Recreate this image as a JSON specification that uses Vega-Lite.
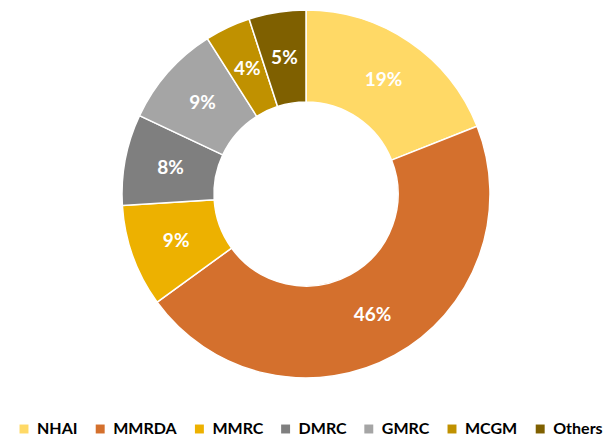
{
  "$schema": "https://vega.github.io/schema/vega-lite/v6.json",
  "width": 602,
  "height": 388,
  "autosize": {"type": "none"},
  "padding": {"left": 5, "top": 0, "right": 0, "bottom": 49},
  "background": "white",
  "data": {"values": [
    {"agency": "NHAI", "share": 19, "label": "19%", "ord": 1},
    {"agency": "MMRDA", "share": 46, "label": "46%", "ord": 2},
    {"agency": "MMRC", "share": 9, "label": "9%", "ord": 3},
    {"agency": "DMRC", "share": 8, "label": "8%", "ord": 4},
    {"agency": "GMRC", "share": 9, "label": "9%", "ord": 5},
    {"agency": "MCGM", "share": 4, "label": "4%", "ord": 6},
    {"agency": "Others", "share": 5, "label": "5%", "ord": 7}
  ]},
  "encoding": {
    "theta": {"field": "share", "type": "quantitative", "stack": true},
    "order": {"field": "ord", "type": "quantitative"}
  },
  "layer": [
    {
      "mark": {"type": "arc", "outerRadius": 184, "innerRadius": 92, "stroke": "white", "strokeWidth": 1.5},
      "encoding": {
        "color": {
          "field": "agency",
          "type": "nominal",
          "scale": {
            "domain": ["NHAI", "MMRDA", "MMRC", "DMRC", "GMRC", "MCGM", "Others"],
            "range": ["#FFD966", "#D4702D", "#EDB100", "#7F7F7F", "#A5A5A5", "#C09100", "#7F6000"]
          },
          "legend": {
            "title": null,
            "orient": "none",
            "direction": "horizontal",
            "columns": 7,
            "legendX": 11,
            "legendY": 421,
            "symbolType": "square",
            "symbolSize": 80,
            "symbolStrokeWidth": 0,
            "labelFont": "Lato",
            "labelFontWeight": "bold",
            "labelFontSize": 16,
            "labelColor": "#000000",
            "columnPadding": 14.2,
            "symbolOffset": 0,
            "labelOffset": 5
          }
        }
      }
    },
    {
      "mark": {"type": "text", "radius": 138, "font": "Lato", "fontWeight": "bold", "fontSize": 19, "color": "white"},
      "encoding": {
        "text": {"field": "label", "type": "nominal"}
      }
    }
  ]
}
